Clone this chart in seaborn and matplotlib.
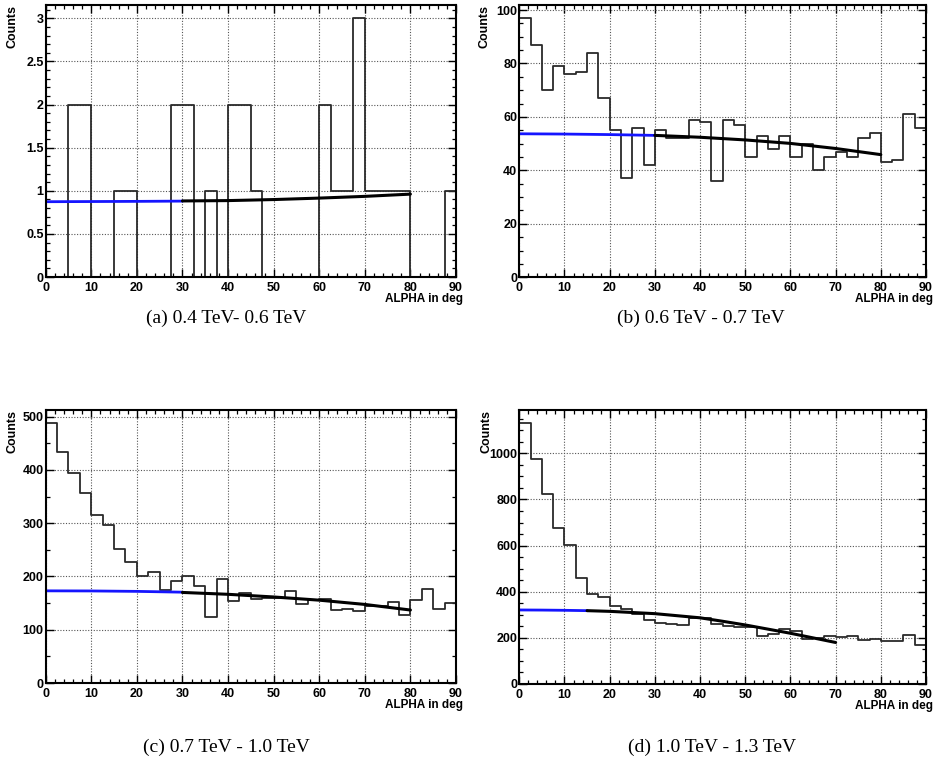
import numpy as np
import pandas as pd
import matplotlib
matplotlib.use("Agg")
import matplotlib.pyplot as plt
from matplotlib.ticker import MultipleLocator, FormatStrFormatter
import seaborn as sns

# ---------------- data ----------------
bin_edges = [i * 2.5 for i in range(37)]   # 0 .. 90 deg, 36 bins

counts_a = [0, 0, 2, 2, 0, 0, 1, 1, 0, 0, 0, 2, 2, 0, 1, 0, 2, 2,
            1, 0, 0, 0, 0, 0, 2, 1, 1, 3, 1, 1, 1, 1, 0, 0, 0, 1]
counts_b = [97, 87, 70, 79, 76, 77, 84, 67, 55, 37, 56, 42, 55, 52, 52, 59, 58, 36,
            59, 57, 45, 53, 48, 53, 45, 50, 40, 45, 47, 45, 52, 54, 43, 44, 61, 56]
counts_c = [488, 433, 395, 357, 316, 297, 252, 227, 201, 208, 174, 191, 201, 182, 123, 195, 154, 169,
            157, 159, 159, 172, 149, 156, 157, 137, 139, 136, 145, 145, 152, 128, 155, 176, 138, 150]
counts_d = [1130, 977, 824, 678, 604, 460, 390, 376, 338, 324, 304, 278, 263, 260, 254, 288, 285, 259,
            251, 248, 246, 208, 215, 237, 231, 197, 199, 208, 204, 208, 191, 194, 188, 186, 211, 171]

# fit curves (blue = extrapolated part, black = fitted range)
fit_blue_x_a = [0, 10, 20, 30]
fit_blue_y_a = [0.873, 0.875, 0.877, 0.880]
fit_black_x_a = [30, 40, 50, 60, 70, 80]
fit_black_y_a = [0.882, 0.886, 0.898, 0.915, 0.935, 0.961]

fit_blue_x_b = [0, 10, 20, 30]
fit_blue_y_b = [53.7, 53.6, 53.4, 53.1]
fit_black_x_b = [30, 40, 50, 60, 70, 80]
fit_black_y_b = [53.1, 52.4, 51.4, 50.1, 48.2, 45.9]

fit_blue_x_c = [0, 10, 20, 30]
fit_blue_y_c = [173, 172.8, 172, 170.5]
fit_black_x_c = [30, 40, 50, 60, 70, 80]
fit_black_y_c = [170, 166.5, 161.5, 155.5, 147.5, 137]

fit_blue_x_d = [0, 5, 10, 15]
fit_blue_y_d = [321, 320.5, 319.5, 318]
fit_black_x_d = [15, 20, 30, 40, 45, 50, 55, 60, 65, 70]
fit_black_y_d = [318, 315, 305, 287, 272, 256, 238, 220, 200, 180]

captions = ["(a) 0.4 TeV- 0.6 TeV", "(b) 0.6 TeV - 0.7 TeV",
            "(c) 0.7 TeV - 1.0 TeV", "(d) 1.0 TeV - 1.3 TeV"]
y_tops = [3.154, 102, 512.5, 1188]
y_major = [0.5, 20, 100, 200]
y_minor = [0.1, 5, 50, 50]

# ---------------- style ----------------
sns.set_theme(style="white")
plt.rcParams["font.family"] = ["Liberation Sans", "DejaVu Sans"]
plt.rcParams["text.color"] = "black"
plt.rcParams["axes.labelcolor"] = "black"
plt.rcParams["xtick.color"] = "black"
plt.rcParams["ytick.color"] = "black"

W, H = 936, 765
fig = plt.figure(figsize=(W / 100, H / 100), dpi=100)

boxes = [
    (45.7, 5, 456, 277),
    (519.3, 4.7, 926, 277.3),
    (45.7, 410, 456, 683),
    (519.3, 410, 926, 684),
]
counts_x = [13, 485, 13, 486]
cap_pos = [(226, 318), (701, 318), (226, 747), (712, 747)]

panels = [
    (counts_a, fit_blue_x_a, fit_blue_y_a, fit_black_x_a, fit_black_y_a),
    (counts_b, fit_blue_x_b, fit_blue_y_b, fit_black_x_b, fit_black_y_b),
    (counts_c, fit_blue_x_c, fit_blue_y_c, fit_black_x_c, fit_black_y_c),
    (counts_d, fit_blue_x_d, fit_blue_y_d, fit_black_x_d, fit_black_y_d),
]

centers = [(bin_edges[i] + bin_edges[i + 1]) / 2 for i in range(36)]

for k, (cnts, bx, by, kx, ky) in enumerate(panels):
    x0, y0, x1, y1 = boxes[k]
    ax = fig.add_axes([x0 / W, 1 - y1 / H, (x1 - x0) / W, (y1 - y0) / H])
    df = pd.DataFrame({"alpha": centers, "counts": cnts})
    sns.histplot(data=df, x="alpha", weights="counts", bins=bin_edges,
                 element="step", fill=False, color="#2a2a2a", linewidth=1.3, ax=ax)
    sns.lineplot(x=bx, y=by, color="#1515ff", linewidth=2.0, ax=ax)
    sns.lineplot(x=kx, y=ky, color="black", linewidth=2.2, ax=ax)

    ax.set_xlim(0, 90)
    ax.set_ylim(0, y_tops[k])
    ax.set_xlabel("")
    ax.set_ylabel("")
    ax.xaxis.set_major_locator(MultipleLocator(10))
    ax.xaxis.set_minor_locator(MultipleLocator(2))
    ax.yaxis.set_major_locator(MultipleLocator(y_major[k]))
    ax.yaxis.set_minor_locator(MultipleLocator(y_minor[k]))
    ax.yaxis.set_major_formatter(FormatStrFormatter("%g"))
    ax.tick_params(which="both", direction="in", top=True, right=True,
                   bottom=True, left=True, colors="black", labelcolor="black")
    ax.tick_params(which="major", length=6, width=1.0, labelsize=9)
    ax.tick_params(axis="x", which="major", pad=3.6)
    ax.tick_params(axis="y", which="major", pad=1.5)
    ax.tick_params(which="minor", length=3, width=0.9)
    for lab in ax.get_xticklabels() + ax.get_yticklabels():
        lab.set_fontweight("bold")
    ax.grid(True, which="major", linestyle=(0, (1, 1.5)), color="#555555", linewidth=0.8)
    for s in ax.spines.values():
        s.set_visible(True)
        s.set_color("black")
        s.set_linewidth(1.5)

    axw = x1 - x0
    axh = y1 - y0
    ax.text((counts_x[k] - x0) / axw, 1.0, "Counts", transform=ax.transAxes, rotation=90,
            ha="center", va="top", fontsize=9, fontweight="bold", color="black")
    ax.text(1.0 + 7 / axw, -16 / axh, "ALPHA in deg", transform=ax.transAxes,
            ha="right", va="top", fontsize=8.5, fontweight="bold", color="black")

    cx, cy = cap_pos[k]
    fig.text(cx / W, 1 - cy / H, captions[k], ha="center", va="center", color="black",
             fontsize=14, family=["Liberation Serif", "DejaVu Serif"])

fig.savefig("out.png", dpi=100)
